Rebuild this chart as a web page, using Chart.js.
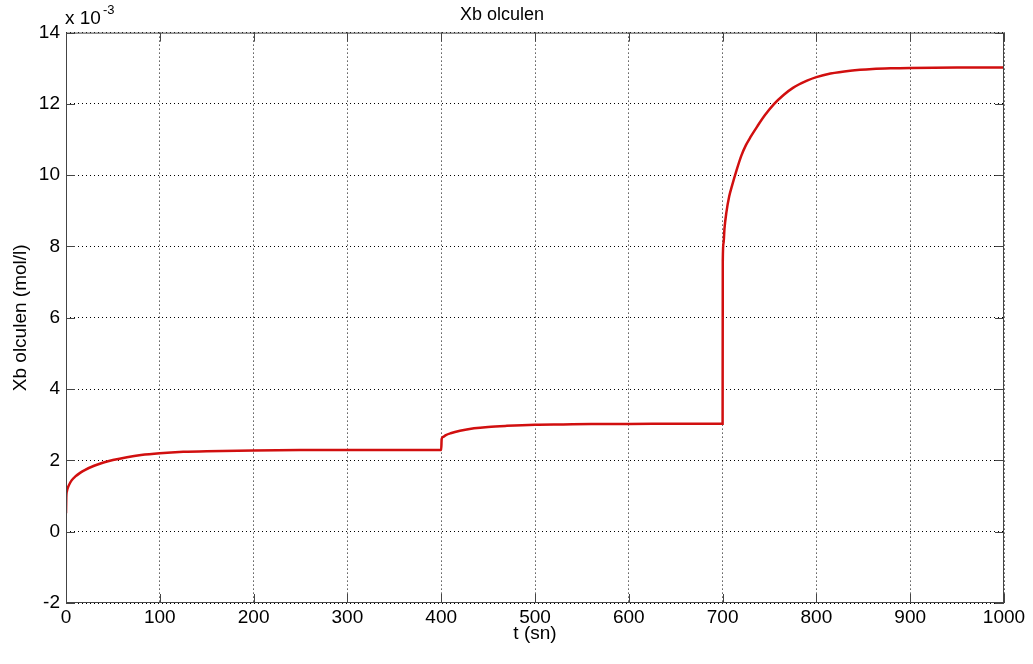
<!DOCTYPE html>
<html>
<head>
<meta charset="utf-8">
<script src="https://cdn.jsdelivr.net/npm/chart.js@4"></script>
<style>
  body { margin: 0; background: #fff; }
</style>
</head>
<body>
<canvas id="xbChart" width="1033" height="664"></canvas>
<script>
// zaman (sn)
const tTime = [
  0, 0.3, 1, 3, 6, 10, 15, 20, 30, 40, 50, 65, 80, 100, 125, 150, 200, 250, 300, 350, 399.9,
  400, 400.5, 402, 405, 410, 420, 435, 450, 470, 500, 530, 560, 600, 650, 699.9,
  700, 700.2, 701, 702, 704, 707, 710, 715, 720, 725, 730, 737, 745, 755, 765, 775, 790, 800, 815, 836, 860, 880, 900, 950, 1000
];
// Xb olculen (x 10^-3 mol/l)
const xbValues = [
  0.52, 0.95, 1.14, 1.3, 1.44, 1.55, 1.65, 1.73, 1.85, 1.94, 2.01, 2.09, 2.15, 2.2, 2.24, 2.26, 2.28, 2.29, 2.29, 2.29, 2.29,
  2.29, 2.6, 2.66, 2.71, 2.76, 2.83, 2.9, 2.94, 2.97, 3.0, 3.01, 3.02, 3.02, 3.03, 3.03,
  3.03, 7.6, 8.1, 8.5, 8.95, 9.4, 9.7, 10.15, 10.55, 10.85, 11.08, 11.37, 11.68, 12.0, 12.25, 12.45, 12.65, 12.75, 12.85, 12.93, 12.98, 13.0, 13.01, 13.02, 13.02
];
const xTicks = [0, 100, 200, 300, 400, 500, 600, 700, 800, 900, 1000];
const yTicks = [-2, 0, 2, 4, 6, 8, 10, 12, 14];

const FONT = 'Liberation Sans, Arial, sans-serif';

// MATLAB tarzi cerceve, iceri dogru tick'ler ve x 10^-3 yazisi
const matlabBox = {
  id: 'matlabBox',
  afterDraw(chart) {
    const ctx = chart.ctx;
    const a = chart.chartArea;
    const xs = chart.scales.x, ys = chart.scales.y;
    ctx.save();
    ctx.strokeStyle = '#444';
    ctx.lineWidth = 1;
    ctx.setLineDash([]);
    ctx.strokeRect(a.left + 0.5, a.top + 0.5, a.right - a.left - 1, a.bottom - a.top - 1);
    const L = 9;
    ctx.beginPath();
    xTicks.forEach(v => {
      const px = Math.round(xs.getPixelForValue(v)) + 0.5;
      ctx.moveTo(px, a.bottom); ctx.lineTo(px, a.bottom - L);
      ctx.moveTo(px, a.top); ctx.lineTo(px, a.top + L);
    });
    yTicks.forEach(v => {
      const py = Math.round(ys.getPixelForValue(v)) + 0.5;
      ctx.moveTo(a.left, py); ctx.lineTo(a.left + L, py);
      ctx.moveTo(a.right, py); ctx.lineTo(a.right - L, py);
    });
    ctx.stroke();
    ctx.fillStyle = '#000';
    ctx.textBaseline = 'alphabetic';
    ctx.textAlign = 'left';
    ctx.font = '19px ' + FONT;
    ctx.fillText('x 10', a.left - 1, 24);
    const w = ctx.measureText('x 10').width;
    ctx.font = '13px ' + FONT;
    ctx.fillText('-3', a.left - 1 + w + 2, 14);
    ctx.restore();
  }
};

const ctx = document.getElementById('xbChart').getContext('2d');
const myChart = new Chart(ctx, {
  type: 'line',
  data: {
    datasets: [{
      label: 'Xb olculen',
      data: tTime.map((t, i) => ({ x: t, y: xbValues[i] })),
      borderColor: '#d10f0f',
      borderWidth: 2.5,
      pointRadius: 0,
      cubicInterpolationMode: 'monotone',
      fill: false
    }]
  },
  options: {
    responsive: false,
    animation: false,
    layout: { padding: { top: 0, right: 29, bottom: 0, left: 0 } },
    plugins: {
      legend: { display: false },
      tooltip: { enabled: false },
      title: {
        display: true,
        text: 'Xb olculen',
        color: '#000',
        font: { family: FONT, size: 18, weight: 'normal' },
        padding: { top: 4, bottom: 7 }
      }
    },
    scales: {
      x: {
        type: 'linear',
        min: 0,
        max: 1000,
        afterBuildTicks: s => { s.ticks = xTicks.map(v => ({ value: v })); },
        afterFit: s => { s.height = 61; },
        grid: { color: '#000', lineWidth: 1, drawTicks: false },
        border: { display: false, dash: [1, 3] },
        ticks: {
          color: '#000', padding: 3, maxRotation: 0,
          font: { family: FONT, size: 19 },
          callback: v => String(v)
        },
        title: {
          display: true,
          text: 't (sn)',
          color: '#000',
          font: { family: FONT, size: 19 },
          padding: { top: 0, bottom: 19 }
        }
      },
      y: {
        min: -2,
        max: 14,
        afterBuildTicks: s => { s.ticks = yTicks.map(v => ({ value: v })); },
        afterFit: s => { s.width = 66; },
        grid: { color: '#000', lineWidth: 1, drawTicks: false },
        border: { display: false, dash: [1, 3] },
        ticks: { color: '#000', padding: 6, font: { family: FONT, size: 19 }, callback: v => String(v) },
        title: {
          display: true,
          text: 'Xb olculen (mol/l)',
          color: '#000',
          font: { family: FONT, size: 19 },
          padding: { top: 9, bottom: 0 }
        }
      }
    }
  },
  plugins: [matlabBox]
});
</script>
</body>
</html>
